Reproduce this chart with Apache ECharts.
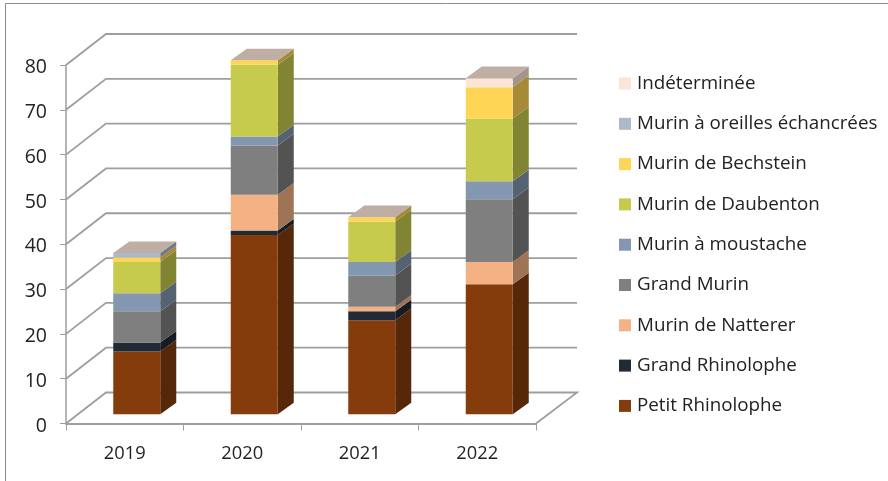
<!DOCTYPE html>
<html>
<head>
<meta charset="utf-8">
<style>
  html, body { margin: 0; padding: 0; background: #fff; }
  #chart { width: 888px; height: 481px; }
</style>
<script src="https://cdn.jsdelivr.net/npm/echarts@6/dist/echarts.min.js"></script>
</head>
<body>
<div id="chart"></div>
<script>
const years = ["2019", "2020", "2021", "2022"];
const yTicks = [0, 10, 20, 30, 40, 50, 60, 70, 80];

// bottom to top of the stack
const speciesNames = [
  "Petit Rhinolophe", "Grand Rhinolophe", "Murin de Natterer", "Grand Murin",
  "Murin à moustache", "Murin de Daubenton", "Murin de Bechstein",
  "Murin à oreilles échancrées", "Indéterminée"
];
const petitRhinolophe = [14, 40, 21, 29];
const grandRhinolophe = [2, 1, 2, 0];
const murinNatterer = [0, 8, 1, 5];
const grandMurin = [7, 11, 7, 14];
const murinMoustache = [4, 2, 3, 4];
const murinDaubenton = [7, 16, 9, 14];
const murinBechstein = [1, 1, 1, 7];
const murinOreilles = [1, 0, 0, 0];
const indeterminee = [0, 0, 0, 2];
const speciesValues = [
  petitRhinolophe, grandRhinolophe, murinNatterer, grandMurin, murinMoustache,
  murinDaubenton, murinBechstein, murinOreilles, indeterminee
];
const speciesColors = [
  "#843C0C", "#222B35", "#F4B183", "#7F7F7F", "#8497B0",
  "#C6CB4E", "#FFD556", "#ADB9CA", "#FBE5D6"
];

// fake 3d: how far the wall sits behind the axes, and the bar inside that depth
const wallDx = 40, wallDy = -31;
const barShiftX = 12, barShiftY = -9.2;
const barDepthX = 16, barDepthY = -11.6;
const textColor = "#222222";
const lineColor = "#9E9E9E";
const font = "Open Sans";

const chart = echarts.init(document.getElementById("chart"), null, { renderer: "canvas" });

function shade(color, k) {
  const c = echarts.color.parse(color);
  return "rgb(" + Math.round(c[0] * k) + "," + Math.round(c[1] * k) + "," + Math.round(c[2] * k) + ")";
}

const wallSeries = {
  type: "custom",
  silent: true,
  z: 1,
  data: yTicks.map(v => [0, v]),
  encode: { x: 0, y: 1 },
  renderItem: function (params, api) {
    const rect = params.coordSys;
    const y = api.coord([0, api.value(1)])[1];
    const pts = [
      [rect.x, y],
      [rect.x + wallDx, y + wallDy],
      [rect.x + rect.width + wallDx + 1, y + wallDy]
    ];
    if (api.value(1) === 0) pts.push([rect.x + rect.width, y]);
    return {
      type: "polyline",
      shape: { points: pts },
      style: { fill: "none", stroke: lineColor, lineWidth: 1.8 }
    };
  }
};

function barItem(color, isLast) {
  return function (params, api) {
    const band = api.size([1, 0])[0];
    const halfW = band * 0.2;
    const c0 = api.coord([api.value(0), api.value(1)]);
    const c1 = api.coord([api.value(0), api.value(2)]);
    const left = c0[0] + barShiftX - halfW;
    const right = c0[0] + barShiftX + halfW;
    const bottom = c0[1] + barShiftY;
    const top = c1[1] + barShiftY;
    const children = [];
    if (bottom - top > 0) {
      children.push({
        type: "polygon",
        shape: { points: [[right, bottom], [right + barDepthX, bottom + barDepthY], [right + barDepthX, top + barDepthY], [right, top]] },
        style: { fill: shade(color, 0.65) }
      });
      children.push({
        type: "rect",
        shape: { x: left, y: top, width: right - left, height: bottom - top },
        style: { fill: color }
      });
    }
    // the empty top series still caps every bar, as in the original
    if (isLast) {
      children.push({
        type: "polygon",
        shape: { points: [[left, top], [left + barDepthX, top + barDepthY], [right + barDepthX, top + barDepthY], [right, top]] },
        style: { fill: shade(color, 0.76) }
      });
    }
    return { type: "group", children: children };
  };
}

const running = years.map(() => 0);
const barSeries = speciesNames.map(function (name, i) {
  const rows = years.map(function (y, k) {
    const from = running[k];
    running[k] += speciesValues[i][k];
    return [k, from, running[k]];
  });
  return {
    type: "custom",
    name: name,
    z: 3,
    data: rows,
    encode: { x: 0, y: [1, 2] },
    itemStyle: { color: speciesColors[i] },
    renderItem: barItem(speciesColors[i], i === speciesNames.length - 1)
  };
});

chart.setOption({
  animation: false,
  backgroundColor: "#fff",
  // frame of the original picture, open on the right and at the bottom
  graphic: [{
    type: "polyline",
    silent: true,
    shape: { points: [[5.5, 481], [5.5, 3.5], [888, 3.5]] },
    style: { fill: "none", stroke: "#8C8C8C", lineWidth: 1 }
  }],
  legend: {
    data: speciesNames.slice().reverse(),
    orient: "vertical",
    left: 614,
    top: 69,
    icon: "rect",
    itemWidth: 12,
    itemHeight: 12,
    itemGap: 21.3,
    selectedMode: false,
    textStyle: { color: textColor, fontFamily: font, fontSize: 18.8, padding: [0, 0, 0, 1] }
  },
  grid: { left: 66, right: 352, top: 65, bottom: 57.5 },
  xAxis: {
    type: "category",
    data: years,
    axisLine: { lineStyle: { color: lineColor, width: 1.8 } },
    axisTick: { show: true, alignWithLabel: false, length: 7, lineStyle: { color: lineColor } },
    axisLabel: { color: textColor, fontFamily: font, fontSize: 18.3, margin: 21 }
  },
  yAxis: {
    type: "value",
    min: 0,
    max: 80,
    interval: 10,
    axisLine: { show: true, lineStyle: { color: lineColor, width: 1.5 } },
    axisTick: { show: true, length: 6, lineStyle: { color: lineColor } },
    axisLabel: { color: textColor, fontFamily: font, fontSize: 19.5, margin: 19, verticalAlign: "top", lineHeight: 5 },
    splitLine: { show: false }
  },
  series: [wallSeries].concat(barSeries)
});
</script>
</body>
</html>
